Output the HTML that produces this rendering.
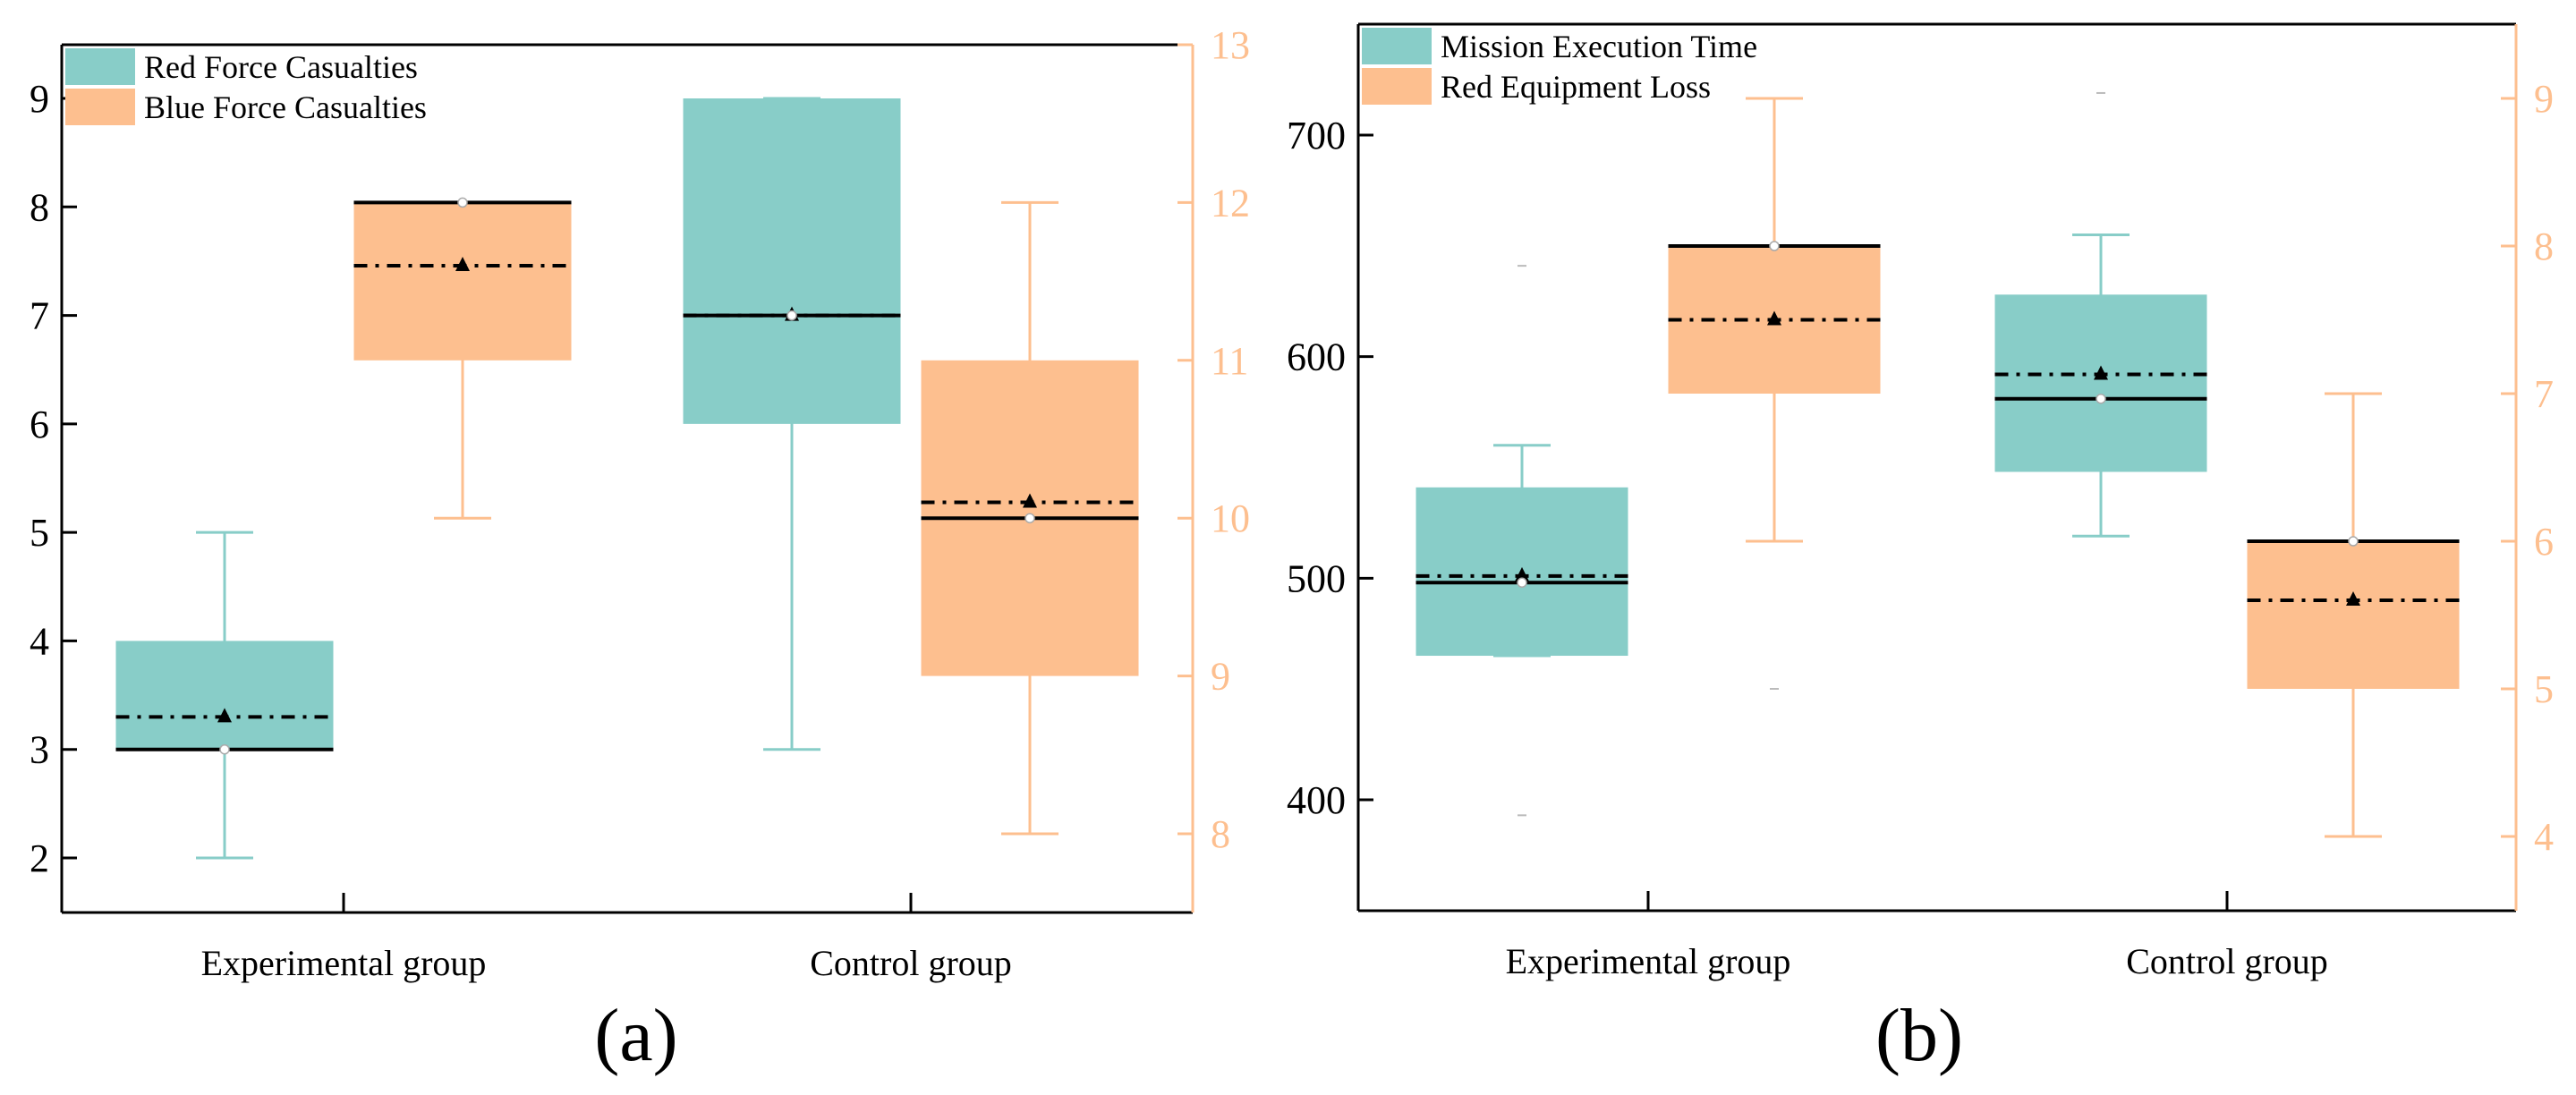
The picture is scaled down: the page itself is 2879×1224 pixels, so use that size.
<!DOCTYPE html>
<html><head><meta charset="utf-8"><style>
html,body{margin:0;padding:0;background:#fff;}
svg{display:block;font-family:"Liberation Serif",serif;}
</style></head><body>
<svg id="fig" width="2879" height="1224" viewBox="0 0 2879 1224" xmlns="http://www.w3.org/2000/svg"></svg>
<script>
// ---- Panel (a) data ----
const aCategories = ["Experimental group", "Control group"];
const aLeftTicks = [2, 3, 4, 5, 6, 7, 8, 9];
const aRightTicks = [8, 9, 10, 11, 12, 13];
const aLegend = ["Red Force Casualties", "Blue Force Casualties"];
// [min, q1, median, q3, max, mean]
const aRedStats = [[2, 3, 3, 4, 5, 3.3], [3, 6, 7, 9, 9, 7]];
const aBlueStats = [[10, 11, 12, 12, 12, 11.6], [8, 9, 10, 11, 12, 10.1]];
const aRedOutliers = [[], []];
const aBlueOutliers = [[], []];
// ---- Panel (b) data ----
const bCategories = ["Experimental group", "Control group"];
const bLeftTicks = [400, 500, 600, 700];
const bRightTicks = [4, 5, 6, 7, 8, 9];
const bLegend = ["Mission Execution Time", "Red Equipment Loss"];
const bTimeStats = [[465, 465, 498, 541, 560, 501], [519, 548, 581, 628, 655, 592]];
const bLossStats = [[6, 7, 8, 8, 9, 7.5], [4, 5, 6, 6, 7, 5.6]];
const bTimeOutliers = [[641, 393], [719]];
const bLossOutliers = [[5], []];

const NS = "http://www.w3.org/2000/svg";
const svg = document.getElementById("fig");
const TEAL = "#88cdc8", ORANGE = "#fdbf8f";
function mk(tag, attrs, parent) {
  const e = document.createElementNS(NS, tag);
  for (const k in attrs) e.setAttribute(k, attrs[k]);
  (parent || svg).appendChild(e);
  return e;
}

function panel(cfg) {
  const g = mk("g", {});
  
  
  const yL = v => cfg.lY0 + (v - cfg.lV0) * (cfg.lY1 - cfg.lY0) / (cfg.lV1 - cfg.lV0);
  const yR = v => cfg.rY0 + (v - cfg.rV0) * (cfg.rY1 - cfg.rY0) / (cfg.rV1 - cfg.rV0);
  const xC = i => cfg.catX[i];
  function box(stats, outl, i, off, yf, color, nm) {
    const cx = xC(i) + off, hw = cfg.boxW / 2;
    const s = stats[i];
    const bg = mk("g", {}, g);
    
    
    mk("line", {x1: cx, x2: cx, y1: yf(s[0]), y2: yf(s[4]), stroke: color, "stroke-width": 3}, bg);
    [s[0], s[4]].forEach(v => mk("line", {x1: cx - 32, x2: cx + 32, y1: yf(v), y2: yf(v), stroke: color, "stroke-width": 3}, bg));
    mk("rect", {x: cx - hw, y: yf(s[3]), width: cfg.boxW, height: Math.max(0, yf(s[1]) - yf(s[3])), fill: color}, bg);
    mk("line", {x1: cx - hw, x2: cx + hw, y1: yf(s[2]), y2: yf(s[2]), stroke: "#000", "stroke-width": 4}, bg);
    mk("line", {x1: cx - hw, x2: cx + hw, y1: yf(s[5]), y2: yf(s[5]), stroke: "#000", "stroke-width": 4, "stroke-dasharray": "15 9 4 9"}, bg);
    const my = yf(s[5]);
    mk("polygon", {points: `${cx-8},${my+6} ${cx+8},${my+6} ${cx},${my-10}`, fill: "#000"}, bg);
    mk("circle", {cx: cx, cy: yf(s[2]), r: 5, fill: "#fff", stroke: "#aaa", "stroke-width": 1.5}, bg);
    outl[i].forEach(v => mk("line", {x1: cx - 5, x2: cx + 5, y1: yf(v), y2: yf(v), stroke: "#bbb", "stroke-width": 2}, bg));
  }
  for (let i = 0; i < 2; i++) {
    box(cfg.s1, cfg.o1, i, -cfg.offset, yL, TEAL, cfg.n1);
    box(cfg.s2, cfg.o2, i, cfg.offset, yR, ORANGE, cfg.n2);
  }
  const ax = mk("g", {}, g);
  
  
  mk("line", {x1: cfg.L, x2: cfg.L, y1: cfg.T, y2: cfg.B, stroke: "#000", "stroke-width": 3}, ax);
  mk("line", {x1: cfg.L, x2: cfg.R, y1: cfg.T, y2: cfg.T, stroke: "#000", "stroke-width": 3}, ax);
  mk("line", {x1: cfg.L, x2: cfg.R, y1: cfg.B, y2: cfg.B, stroke: "#000", "stroke-width": 3}, ax);
  mk("line", {x1: cfg.R, x2: cfg.R, y1: cfg.T, y2: cfg.B, stroke: ORANGE, "stroke-width": 3}, ax);
  cfg.lTicks.forEach(v => {
    mk("line", {x1: cfg.L, x2: cfg.L + 17, y1: yL(v), y2: yL(v), stroke: "#000", "stroke-width": 3}, ax);
    const t = mk("text", {x: cfg.L - 14, y: yL(v) + 15, "text-anchor": "end", "font-size": 44, fill: "#000"}, ax);
    t.textContent = v;
    
    
  });
  cfg.rTicks.forEach(v => {
    mk("line", {x1: cfg.R - 17, x2: cfg.R, y1: yR(v), y2: yR(v), stroke: ORANGE, "stroke-width": 3}, ax);
    const t = mk("text", {x: cfg.R + 20, y: yR(v) + 15, "font-size": 44, fill: ORANGE}, ax);
    t.textContent = v;
    
    
  });
  cfg.cats.forEach((c, i) => {
    mk("line", {x1: xC(i), x2: xC(i), y1: cfg.B - 22, y2: cfg.B, stroke: "#000", "stroke-width": 3}, ax);
    const t = mk("text", {x: xC(i), y: cfg.B + 70, "text-anchor": "middle", "font-size": 40, fill: "#000"}, ax);
    t.textContent = c;
    
    
  });
  cfg.legend.forEach((lab, i) => {
    const lg = mk("g", {}, g);
    
    
    mk("rect", {x: cfg.L + 4, y: cfg.T + 4 + i * 45, width: 78, height: 41, fill: i ? ORANGE : TEAL}, lg);
    const t = mk("text", {x: cfg.L + 92, y: cfg.T + 37 + i * 45, "font-size": 36, fill: "#000"}, lg);
    t.textContent = lab;
  });
  const cap = mk("text", {x: cfg.capX, y: 1185, "text-anchor": "middle", "font-size": 84, fill: "#000"}, g);
  cap.textContent = cfg.caption;
  
  
}

panel({name: "panel-a", L: 69, R: 1333, T: 50, B: 1020,
  lV0: 2, lY0: 959, lV1: 9, lY1: 110,
  rV0: 8, rY0: 932, rV1: 13, rY1: 50,
  catX: [384, 1018], offset: 133, boxW: 243,
  s1: aRedStats, s2: aBlueStats, o1: aRedOutliers, o2: aBlueOutliers,
  n1: "red-force", n2: "blue-force",
  lTicks: aLeftTicks, rTicks: aRightTicks, cats: aCategories, legend: aLegend,
  capX: 711, caption: "(a)"});

panel({name: "panel-b", L: 1518, R: 2812, T: 27, B: 1018,
  lV0: 400, lY0: 894, lV1: 700, lY1: 151,
  rV0: 4, rY0: 935, rV1: 9, rY1: 110,
  catX: [1842, 2489], offset: 141, boxW: 237,
  s1: bTimeStats, s2: bLossStats, o1: bTimeOutliers, o2: bLossOutliers,
  n1: "mission-time", n2: "equipment-loss",
  lTicks: bLeftTicks, rTicks: bRightTicks, cats: bCategories, legend: bLegend,
  capX: 2145, caption: "(b)"});
</script>
</body></html>
